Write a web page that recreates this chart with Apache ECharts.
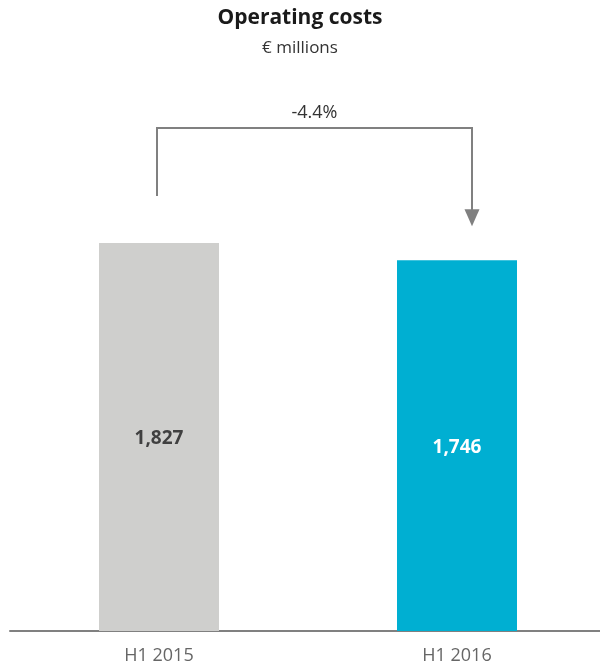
<!DOCTYPE html>
<html>
<head>
<meta charset="utf-8">
<script src="https://cdn.jsdelivr.net/npm/echarts@6/dist/echarts.min.js"></script>
<style>html,body{margin:0;padding:0;background:#fff;}#c{width:600px;height:666px;}</style>
</head>
<body>
<div id="c"></div>
<script>
var categories = ['H1 2015', 'H1 2016'];
var values = [1827, 1746];
var barColors = ['#cfcfcd', '#00afd2'];
var labelColors = ['#404040', '#ffffff'];
var changeLabel = '-4.4%';

var FONT = '"Open Sans", "Noto Sans", sans-serif';
var chart = echarts.init(document.getElementById('c'));
chart.setOption({
  animation: false,
  title: {
    text: 'Operating costs',
    subtext: '€ millions',
    left: 'center',
    top: 3,
    itemGap: 11,
    textStyle: {fontFamily: FONT, fontSize: 21, fontWeight: 'bold', color: '#1a1a1a'},
    subtextStyle: {fontFamily: FONT, fontSize: 17, color: '#333333'}
  },
  grid: {left: 10, width: 596, top: 100, bottom: 35, containLabel: false, outerBoundsMode: 'none'},
  xAxis: {
    type: 'category',
    data: categories,
    axisLine: {lineStyle: {color: '#808080', width: 2}},
    axisTick: {show: false},
    axisLabel: {fontFamily: FONT, fontSize: 18, color: '#666666', margin: 16}
  },
  yAxis: {
    type: 'value', min: 0, max: 2500,
    show: false, splitLine: {show: false}
  },
  series: [{
    type: 'bar',
    barWidth: 120,
    data: values.map(function (v, i) {
      return {value: v, itemStyle: {color: barColors[i]},
        label: {color: labelColors[i]}};
    }),
    label: {
      show: true, position: 'inside', offset: [0, 2],
      fontFamily: FONT, fontSize: 19, fontWeight: 'bold',
      formatter: function (p) { return p.value.toLocaleString('en-US'); }
    }
  }]
});

var p0 = chart.convertToPixel({seriesIndex: 0}, [0, values[0]]);
var p1 = chart.convertToPixel({seriesIndex: 0}, [1, values[1]]);
var x0 = p0[0] - 2, x1 = p1[0] + 15;
var yStart = p0[1] - 47, yTop = 128, yTip = p1[1] - 34;
var gc = '#808080';
chart.setOption({
  graphic: [
    {type: 'polyline', shape: {points: [[x0, yStart], [x0, yTop], [x1, yTop], [x1, yTip - 15]]},
      style: {stroke: gc, lineWidth: 2, fill: null}},
    {type: 'polygon', shape: {points: [[x1 - 7.5, yTip - 17], [x1 + 7.5, yTip - 17], [x1, yTip]]},
      style: {fill: gc}},
    {type: 'text', x: (x0 + x1) / 2, y: yTop - 15,
      style: {text: changeLabel, fill: '#333333', font: '18px ' + FONT, textAlign: 'center', textVerticalAlign: 'middle'}}
  ]
});
</script>
</body>
</html>
